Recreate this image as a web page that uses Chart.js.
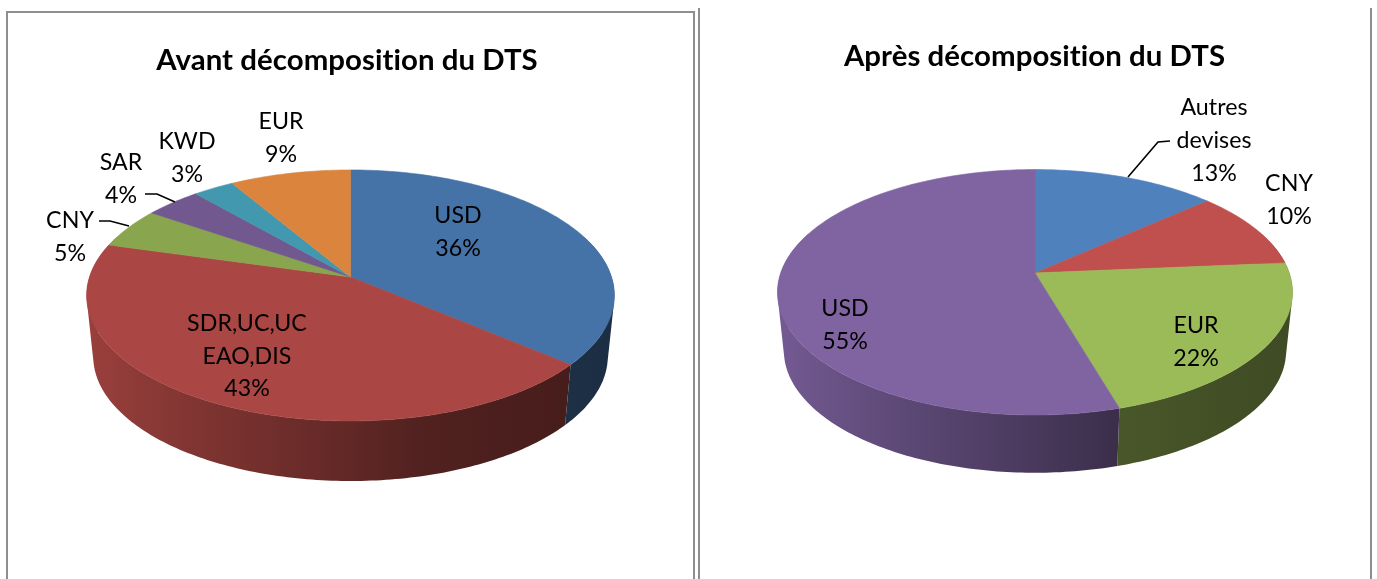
<!DOCTYPE html>
<html lang="fr">
<head>
<meta charset="utf-8">
<title>Décomposition du DTS</title>
<script src="https://cdn.jsdelivr.net/npm/chart.js@4"></script>
<style>
html,body{margin:0;padding:0;background:#fff;overflow:hidden;width:1377px;height:579px}
canvas{position:absolute;top:0;height:579px}
.line{position:absolute;background:#8e8e8e}
</style>
</head>
<body>
<div class="line" style="left:6px;top:11px;width:689px;height:2px"></div>
<div class="line" style="left:6px;top:11px;width:2px;height:568px"></div>
<div class="line" style="left:693px;top:11px;width:2px;height:568px"></div>
<div class="line" style="left:698px;top:8px;width:2px;height:571px"></div>
<div class="line" style="left:1370px;top:8px;width:2px;height:571px"></div>
<div style="position:absolute;left:0;top:0;width:694px;height:579px"><canvas id="c1" width="694" height="579"></canvas></div>
<div style="position:absolute;left:699px;top:0;width:671px;height:579px"><canvas id="c2" width="671" height="579"></canvas></div>
<script>
// ---- data ----
const beforeTitle = 'Avant décomposition du DTS';
const beforeCategories = ['USD', ['SDR,UC,UC', 'EAO,DIS'], 'CNY', 'SAR', 'KWD', 'EUR'];
const beforeValues = [36.2, 43.2, 5.2, 4, 2.9, 8.55];
const beforeColors = ['#4572A7', '#AA4643', '#89A54E', '#71588F', '#4198AF', '#DB843D'];

const afterTitle = 'Après décomposition du DTS';
const afterCategories = [['Autres', 'devises'], 'CNY', 'EUR', 'USD'];
const afterValues = [13.45, 10.2, 21.8, 54.55];
const afterColors = ['#4F81BD', '#C0504D', '#9BBB59', '#8064A2'];

// ---- layout (page pixels) ----
const beforeView = {offset: 0, cx: 350.5, cy: 277, a: 122.8, b: 0.147, R: 261, cyB: 338, aB: 122, RB: 254.5};
const afterView = {offset: 699, cx: 1035, cy: 273, a: 119.7, b: 0.157, R: 254.3, cyB: 331.6, aB: 119, RB: 248};
const beforeLabelAt = [[458, 216], [247, 323.5], [70, 221], [121, 163], [187, 142], [281, 122]];
const afterLabelAt = [[1214, 108], [1289, 184], [1196, 326], [845, 309]];
const beforeLeaders = [
  null, null,
  [[99, 221], [110, 221], [129, 226]],
  [[145, 194], [157, 194], [175, 202]],
  null, null
];
const afterLeaders = [[[1170, 141], [1158, 142], [1128, 177]], null, null, null];
const LINE_H = 32.6;
const LABEL_FONT = '23.2px Lato, "Open Sans", sans-serif';
const TITLE_FONT = {family: 'Lato, "Open Sans", sans-serif', size: 29.4, weight: 'bold'};
// wall shading: brightness factor along the width of the pie
const wallShade = [[0, 0.9], [0.2, 0.75], [0.45, 0.6], [0.65, 0.47], [0.85, 0.43], [1, 0.4]];

// perspective projection of a disc point at angle alpha
function topPoint(v, alpha) {
  const s = Math.sin(alpha), d = 1 - v.b * s;
  return [v.cx + v.R * Math.cos(alpha) / d - v.offset, v.cy + v.a * s / d];
}
function bottomPoint(v, alpha) {
  const s = Math.sin(alpha), d = 1 - v.b * s;
  return [v.cx + v.RB * Math.cos(alpha) / d - v.offset, v.cyB + v.aB * s / d];
}
function shade(hex, f) {
  const n = parseInt(hex.slice(1), 16);
  return `rgb(${Math.round((n >> 16 & 255) * f)},${Math.round((n >> 8 & 255) * f)},${Math.round((n & 255) * f)})`;
}
function signedArea(q) {
  let area = 0;
  q.forEach((p, i) => { const n = q[(i + 1) % q.length]; area += p[0] * n[1] - n[0] * p[1]; });
  return area;
}

class Arc3D extends Chart.ArcElement {
  static id = 'arc3d';
  draw(ctx) {
    const v = this.$view;
    if (!v) return;
    const {startAngle, endAngle} = this.getProps(['startAngle', 'endAngle'], true);
    const steps = Math.max(2, Math.ceil((endAngle - startAngle) * 60));
    ctx.save();
    ctx.beginPath();
    ctx.moveTo(v.cx - v.offset, v.cy);
    for (let i = 0; i <= steps; i++) {
      const p = topPoint(v, startAngle + (endAngle - startAngle) * i / steps);
      ctx.lineTo(p[0], p[1]);
    }
    ctx.closePath();
    ctx.fillStyle = this.options.backgroundColor;
    ctx.strokeStyle = this.options.backgroundColor;
    ctx.lineWidth = 0.6;
    ctx.lineJoin = 'round';
    ctx.fill();
    ctx.stroke();
    ctx.restore();
  }
}
class Pie3D extends Chart.PieController {
  static id = 'pie3d';
  static defaults = {dataElementType: 'arc3d'};
}
Chart.register(Arc3D, Pie3D);

const pie3dPlugin = {
  id: 'pie3dParts',
  beforeDraw(chart) {
    // a non-zero spacing turns off the "ti" ligature of the font in the title
    chart.ctx.letterSpacing = '0.05px';
  },
  beforeDatasetsDraw(chart, args, opts) {
    const v = opts.view, ctx = chart.ctx, meta = chart.getDatasetMeta(0);
    meta.data.forEach(el => { el.$view = v; });
    const lo = -0.35, hi = Math.PI + 0.35;
    const x0 = v.cx - v.R - v.offset, x1 = v.cx + v.R - v.offset;
    meta.data.forEach((el, i) => {
      const s = Math.max(el.startAngle, lo), e = Math.min(el.endAngle, hi);
      if (e <= s) return;
      const steps = Math.max(2, Math.ceil((e - s) * 60));
      const color = chart.data.datasets[0].backgroundColor[i];
      const g = ctx.createLinearGradient(x0, 0, x1, 0);
      wallShade.forEach(st => g.addColorStop(st[0], shade(color, st[1])));
      ctx.save();
      ctx.fillStyle = g;
      ctx.beginPath();
      // one path, every quad wound the same way, so the fold at the silhouette stays filled without seams
      for (let k = 0; k < steps; k++) {
        const a1 = s + (e - s) * k / steps, a2 = s + (e - s) * (k + 1) / steps;
        let q = [topPoint(v, a1), topPoint(v, a2), bottomPoint(v, a2), bottomPoint(v, a1)];
        if (signedArea(q) < 0) q = q.reverse();
        q.forEach((p, n) => n ? ctx.lineTo(p[0], p[1]) : ctx.moveTo(p[0], p[1]));
        ctx.closePath();
      }
      ctx.fill();
      ctx.restore();
    });
  },
  afterDatasetsDraw(chart, args, opts) {
    const v = opts.view, ctx = chart.ctx;
    const total = chart.data.datasets[0].data.reduce((a, b) => a + b, 0);
    ctx.save();
    ctx.strokeStyle = '#000';
    ctx.lineWidth = 1.6;
    opts.leaders.forEach(path => {
      if (!path) return;
      ctx.beginPath();
      path.forEach((p, k) => k ? ctx.lineTo(p[0] - v.offset, p[1]) : ctx.moveTo(p[0] - v.offset, p[1]));
      ctx.stroke();
    });
    ctx.fillStyle = '#000';
    ctx.font = LABEL_FONT;
    ctx.textAlign = 'center';
    ctx.textBaseline = 'middle';
    chart.data.labels.forEach((label, i) => {
      const pct = Math.round(chart.data.datasets[0].data[i] / total * 100) + '%';
      const lines = [].concat(label, pct);
      const at = opts.labelAt[i];
      lines.forEach((t, k) => ctx.fillText(t, at[0] - v.offset, at[1] + k * LINE_H));
    });
    ctx.restore();
  }
};

function makePie(id, title, titleTop, labels, values, colors, view, labelAt, leaders) {
  return new Chart(document.getElementById(id), {
    type: 'pie3d',
    data: {labels, datasets: [{data: values, backgroundColor: colors, borderWidth: 0}]},
    plugins: [pie3dPlugin],
    options: {
      responsive: false,
      animation: false,
      events: [],
      plugins: {
        legend: {display: false},
        tooltip: {enabled: false},
        title: {display: true, text: title, color: '#000', font: TITLE_FONT, padding: {top: titleTop, bottom: 10}},
        pie3dParts: {view, labelAt, leaders}
      }
    }
  });
}
makePie('c1', beforeTitle, 43, beforeCategories, beforeValues, beforeColors, beforeView, beforeLabelAt, beforeLeaders);
makePie('c2', afterTitle, 39, afterCategories, afterValues, afterColors, afterView, afterLabelAt, afterLeaders);
</script>
</body>
</html>
